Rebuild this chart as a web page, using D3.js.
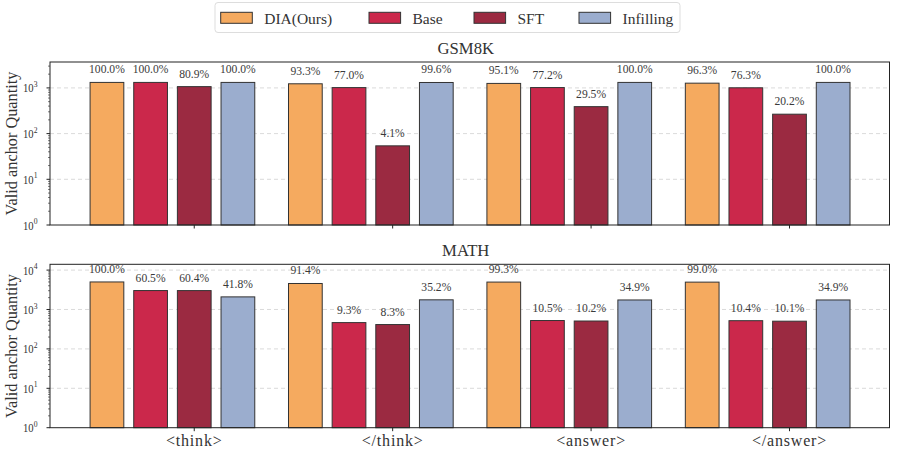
<!DOCTYPE html>
<html><head><meta charset="utf-8">
<script src="https://cdn.jsdelivr.net/npm/d3@7"></script>
<style>body{margin:0;background:#fff}svg{display:block}</style>
</head><body>
<svg id="c" width="897" height="458"></svg>
<script>
const categories = ["<think>", "</think>", "<answer>", "</answer>"];
const seriesNames = ["DIA(Ours)", "Base", "SFT", "Infilling"];
const seriesColors = ["#F5AA5F", "#CB284B", "#9B2A41", "#9BADCE"];
const panelTitles = ["GSM8K", "MATH"];
// GSM8K (1319 problems) – valid anchor counts and percentage labels
const gsmDIA = [1319, 1231, 1254, 1270];
const gsmBase = [1319, 1016, 1018, 1006];
const gsmSFT = [1067, 54, 389, 266];
const gsmInfilling = [1319, 1314, 1319, 1319];
const gsmPctDIA = ["100.0%", "93.3%", "95.1%", "96.3%"];
const gsmPctBase = ["100.0%", "77.0%", "77.2%", "76.3%"];
const gsmPctSFT = ["80.9%", "4.1%", "29.5%", "20.2%"];
const gsmPctInfilling = ["100.0%", "99.6%", "100.0%", "100.0%"];
// MATH (5000 problems)
const mathDIA = [5000, 4570, 4965, 4950];
const mathBase = [3025, 465, 525, 520];
const mathSFT = [3020, 415, 510, 505];
const mathInfilling = [2090, 1760, 1745, 1745];
const mathPctDIA = ["100.0%", "91.4%", "99.3%", "99.0%"];
const mathPctBase = ["60.5%", "9.3%", "10.5%", "10.4%"];
const mathPctSFT = ["60.4%", "8.3%", "10.2%", "10.1%"];
const mathPctInfilling = ["41.8%", "35.2%", "34.9%", "34.9%"];
const yTicksTop = [1, 10, 100, 1000];
const yTicksBottom = [1, 10, 100, 1000, 10000];
const yLabel = "Valid anchor Quantity";

const panels = [
  {title: panelTitles[0], values: [gsmDIA, gsmBase, gsmSFT, gsmInfilling],
   labels: [gsmPctDIA, gsmPctBase, gsmPctSFT, gsmPctInfilling],
   domain: [1, 3690], top: 62, bottom: 225, ticks: yTicksTop, xlabels: false},
  {title: panelTitles[1], values: [mathDIA, mathBase, mathSFT, mathInfilling],
   labels: [mathPctDIA, mathPctBase, mathPctSFT, mathPctInfilling],
   domain: [1, 14030], top: 264.3, bottom: 427.7, ticks: yTicksBottom, xlabels: true}
];

const FONT = "'Liberation Serif','Times New Roman',serif";
const TXT = "#333";
const svg = d3.select("#c");
const left = 50, right = 889.5;
const x = d3.scaleLinear().domain([-0.727, 3.504]).range([left, right]);
const barStep = 0.22, barW = 0.17;

function txt(g, xp, yp, s, size, sx, anchor, fill) {
  return g.append("text")
    .attr("transform", `translate(${xp},${yp}) scale(${sx},1)`)
    .attr("text-anchor", anchor || "middle")
    .attr("font-family", FONT).attr("font-size", size)
    .attr("fill", fill || TXT).text(s);
}

panels.forEach(p => {
  const g = svg.append("g");
  const y = d3.scaleLog().domain(p.domain).range([p.bottom, p.top]);
  // grid
  g.selectAll(".grid").data(p.ticks.filter(t => t > 1)).join("line")
    .attr("x1", left).attr("x2", right)
    .attr("y1", d => y(d)).attr("y2", d => y(d))
    .attr("stroke", "#d0d0d0").attr("stroke-width", 0.8)
    .attr("stroke-dasharray", "4,3");
  // bars
  p.values.forEach((vals, j) => {
    g.selectAll(".b" + j).data(vals).join("rect")
      .attr("x", (d, i) => x(i + (j - 2) * barStep - barW / 2))
      .attr("width", x(barW) - x(0))
      .attr("y", d => y(d))
      .attr("height", d => p.bottom - y(d))
      .attr("fill", seriesColors[j])
      .attr("stroke", "#333").attr("stroke-width", 1);
    vals.forEach((d, i) => {
      txt(g, x(i + (j - 2) * barStep), y(d) - 9, p.labels[j][i], 13.5, 0.86, "middle", "#3a3a3a");
    });
  });
  // frame
  g.append("rect").attr("x", left).attr("y", p.top)
    .attr("width", right - left).attr("height", p.bottom - p.top)
    .attr("fill", "none").attr("stroke", "#222").attr("stroke-width", 1);
  // y ticks major
  p.ticks.forEach(t => {
    g.append("line").attr("x1", left - 3.5).attr("x2", left)
      .attr("y1", y(t)).attr("y2", y(t)).attr("stroke", "#222");
    const e = Math.round(Math.log10(t));
    const tx = g.append("text")
      .attr("transform", `translate(37.5,${y(t) + 4.5}) scale(0.85,1)`)
      .attr("text-anchor", "end").attr("font-family", FONT)
      .attr("font-size", 12.5).attr("fill", TXT);
    tx.append("tspan").text("10");
    tx.append("tspan").attr("dy", -5.5).attr("font-size", 9).text(e);
  });
  // minor ticks
  const maxE = Math.ceil(Math.log10(p.domain[1]));
  for (let e = 0; e < maxE; e++) {
    for (let k = 2; k <= 9; k++) {
      const v = k * Math.pow(10, e);
      if (v > p.domain[1]) continue;
      g.append("line").attr("x1", left - 2).attr("x2", left)
        .attr("y1", y(v)).attr("y2", y(v)).attr("stroke", "#222").attr("stroke-width", 0.6);
    }
  }
  // x ticks
  categories.forEach((c, i) => {
    g.append("line").attr("x1", x(i)).attr("x2", x(i))
      .attr("y1", p.bottom).attr("y2", p.bottom + 3.5).attr("stroke", "#222");
    if (p.xlabels) {
      txt(g, x(i), p.bottom + 18.5, c, 16, 1, "middle").attr("letter-spacing", 0.8);
    }
  });
  // title
  txt(g, (left + right) / 2 - 4, p.top - 8, p.title, 16.7, 1, "middle");
  // y label
  g.append("text")
    .attr("transform", `translate(17,${(p.top + p.bottom) / 2}) rotate(-90)`)
    .attr("text-anchor", "middle").attr("font-family", FONT)
    .attr("font-size", 16.3).attr("fill", TXT).text(yLabel);
});

// legend
const lg = svg.append("g");
lg.append("rect").attr("x", 215).attr("y", 2.5).attr("width", 465).attr("height", 30)
  .attr("rx", 3).attr("fill", "#fff").attr("stroke", "#ddd").attr("stroke-width", 1);
const legX = [220.7, 369, 474, 579];
seriesNames.forEach((n, j) => {
  lg.append("rect").attr("x", legX[j]).attr("y", 12.3).attr("width", 31.6).attr("height", 11)
    .attr("fill", seriesColors[j]).attr("stroke", "#333").attr("stroke-width", 1);
  txt(lg, legX[j] + 43.5, 24, n, 15.5, 1, "start");
});
</script>
</body></html>
